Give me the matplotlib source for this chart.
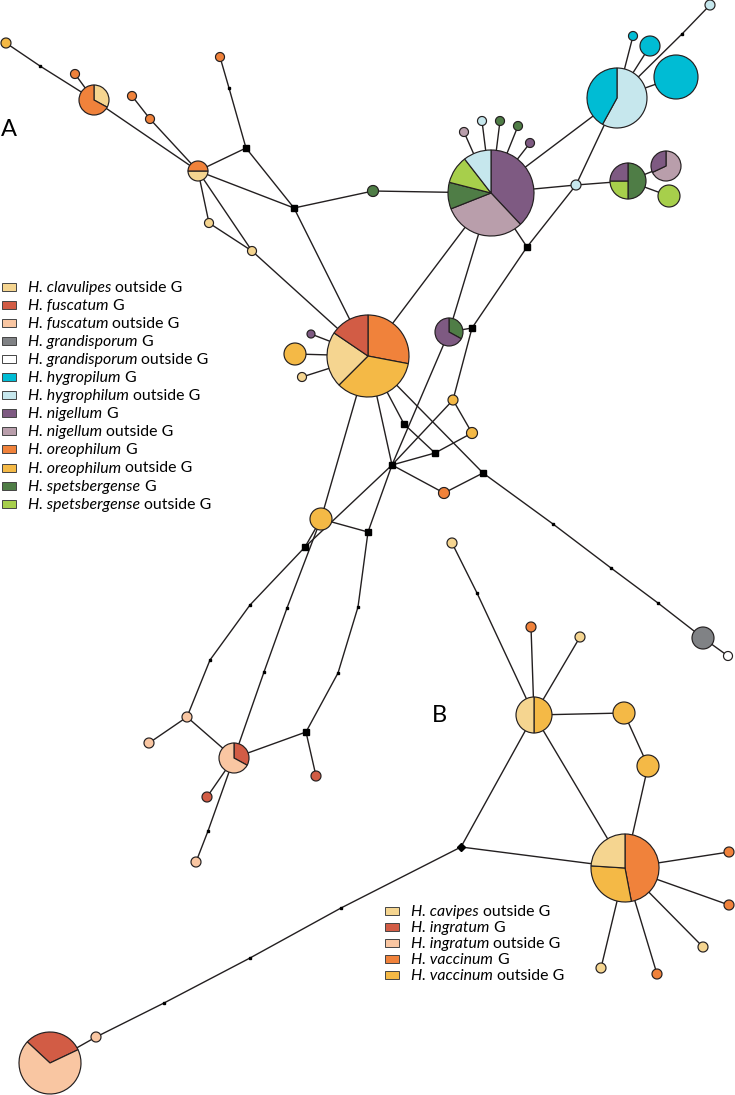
import matplotlib.pyplot as plt
from matplotlib.patches import Wedge, Rectangle

# colours of the groups
CLAV = "#f5d590"
FUSC = "#d25c45"
FUSC_OUT = "#f9c6a2"
GRAND = "#808285"
GRAND_OUT = "#ffffff"
HYGRO = "#00bcd4"
HYGRO_OUT = "#c6e7ed"
NIG = "#7e5a82"
NIG_OUT = "#b99eab"
OREO = "#f0823b"
OREO_OUT = "#f4b946"
SPETS = "#4f7d46"
SPETS_OUT = "#a7cf4b"

# haplotype positions (picture pixels)
hap_xy = {
    # network A
    "a1": (6, 43), "P1": (94, 100), "a2": (75, 74), "a3": (132, 96), "a4": (150, 119),
    "P2": (198, 171), "a5": (220, 57), "a6": (209, 223), "a7": (252, 251),
    "M1": (368, 356), "a8": (311, 334), "a9": (295, 354), "a10": (302, 377),
    "a11": (373, 191), "N1": (491, 193),
    "n1": (464, 132), "n2": (482, 121), "n3": (500, 121), "n4": (518, 126), "n5": (530, 143),
    "C1": (617, 98), "c1": (633, 36), "c2": (650, 46), "c3": (676, 77), "c4": (710, 5),
    "lb": (576, 185), "R": (628, 181), "S": (666, 166), "lg": (669, 196),
    "Q": (449, 332), "y1": (453, 400), "y2": (472, 433), "o1": (444, 493),
    "G": (703, 638), "W": (728, 656), "Y2": (321, 519),
    "f1": (187, 717), "f2": (149, 743), "FP": (234, 758), "f3": (316, 776),
    "f4": (207, 797), "f5": (196, 862),
    # network B
    "b1": (452, 543), "B1": (534, 715), "b2": (531, 627), "b3": (580, 637),
    "b4": (624, 713), "b5": (648, 766), "B2": (625, 868),
    "b6": (729, 852), "b7": (729, 905), "b8": (703, 947), "b9": (657, 974), "b10": (601, 968),
    "b11": (96, 1037), "FI": (50, 1063),
}

hap_r = {
    "a1": 5, "P1": 15, "a2": 4.5, "a3": 4.5, "a4": 4.5, "P2": 10, "a5": 4.5,
    "a6": 4.5, "a7": 4.5, "M1": 41, "a8": 4, "a9": 11, "a10": 4.5, "a11": 5.5,
    "N1": 43, "n1": 4.5, "n2": 4.5, "n3": 4.5, "n4": 4.5, "n5": 4.5,
    "C1": 30, "c1": 4.5, "c2": 10, "c3": 22, "c4": 5, "lb": 5, "R": 18, "S": 15,
    "lg": 11, "Q": 14, "y1": 5, "y2": 5.5, "o1": 5.5, "G": 11, "W": 4.5, "Y2": 11,
    "f1": 5, "f2": 5, "FP": 15, "f3": 5, "f4": 5, "f5": 5,
    "b1": 5, "B1": 18, "b2": 5, "b3": 5, "b4": 11, "b5": 11, "B2": 34,
    "b6": 5, "b7": 5, "b8": 5, "b9": 5, "b10": 5, "b11": 5, "FI": 31,
}

# pie parts, clockwise from the start angle (default: 12 o'clock)
hap_parts = {
    "a1": ([OREO_OUT], [1]), "P1": ([CLAV, OREO], [0.33, 0.67]),
    "a2": ([OREO], [1]), "a3": ([OREO], [1]), "a4": ([OREO], [1]),
    "P2": ([CLAV, OREO], [0.5, 0.5]), "a5": ([OREO], [1]),
    "a6": ([CLAV], [1]), "a7": ([CLAV], [1]),
    "M1": ([OREO, OREO_OUT, CLAV, FUSC], [0.28, 0.345, 0.22, 0.155]),
    "a8": ([NIG], [1]), "a9": ([OREO_OUT], [1]), "a10": ([CLAV], [1]), "a11": ([SPETS], [1]),
    "N1": ([NIG, NIG_OUT, SPETS, SPETS_OUT, HYGRO_OUT], [0.38, 0.31, 0.10, 0.105, 0.105]),
    "n1": ([NIG_OUT], [1]), "n2": ([HYGRO_OUT], [1]), "n3": ([SPETS], [1]),
    "n4": ([SPETS], [1]), "n5": ([NIG], [1]),
    "C1": ([HYGRO_OUT, HYGRO], [0.58, 0.42]),
    "c1": ([HYGRO], [1]), "c2": ([HYGRO], [1]), "c3": ([HYGRO], [1]), "c4": ([HYGRO_OUT], [1]),
    "lb": ([HYGRO_OUT], [1]), "R": ([SPETS, SPETS_OUT, NIG], [0.5, 0.25, 0.25]),
    "S": ([NIG_OUT, NIG], [0.68, 0.32]), "lg": ([SPETS_OUT], [1]),
    "Q": ([SPETS, NIG], [0.33, 0.67]), "y1": ([OREO_OUT], [1]), "y2": ([OREO_OUT], [1]),
    "o1": ([OREO], [1]), "G": ([GRAND], [1]), "W": ([GRAND_OUT], [1]), "Y2": ([OREO_OUT], [1]),
    "f1": ([FUSC_OUT], [1]), "f2": ([FUSC_OUT], [1]), "FP": ([FUSC, FUSC_OUT], [0.33, 0.67]),
    "f3": ([FUSC], [1]), "f4": ([FUSC], [1]), "f5": ([FUSC_OUT], [1]),
    "b1": ([CLAV], [1]), "B1": ([OREO_OUT, CLAV], [0.5, 0.5]), "b2": ([OREO], [1]),
    "b3": ([CLAV], [1]), "b4": ([OREO_OUT], [1]), "b5": ([OREO_OUT], [1]),
    "B2": ([OREO, OREO_OUT, CLAV], [0.47, 0.29, 0.24]),
    "b6": ([OREO], [1]), "b7": ([OREO], [1]), "b8": ([CLAV], [1]), "b9": ([OREO], [1]),
    "b10": ([CLAV], [1]), "b11": ([FUSC_OUT], [1]), "FI": ([FUSC, FUSC_OUT], [0.31, 0.69]),
}
hap_start = {"P2": 0, "FI": 137}

# median vectors
median_sq = {
    "s1": (246, 148), "s2": (294, 208), "s3": (527, 247), "s4": (472, 328),
    "s5": (404, 424), "s6": (435, 453), "H": (392, 465), "s7": (483, 473),
    "s8": (305, 547), "s9": (368, 532), "s10": (306, 732),
}
median_dot = {
    "m1": (40, 66), "m2": (229, 88), "m3": (682, 34), "m4": (553, 524), "m5": (611, 568),
    "m6": (658, 603), "m7": (250, 605), "m8": (210, 660), "m9": (287, 608),
    "m10": (264, 672), "m11": (358, 607), "m12": (338, 673), "m13": (208, 831),
    "mb1": (477, 593), "mb2": (341, 908), "mb3": (250, 958), "mb4": (164, 1003),
}
median_diamond = {"D": (461, 847)}

edges = [
    ("a1", "m1"), ("m1", "P1"), ("P1", "a2"), ("P1", "P2"), ("a3", "a4"), ("a4", "P2"),
    ("a5", "m2"), ("m2", "s1"), ("P2", "s1"), ("P2", "s2"), ("s1", "s2"),
    ("P2", "a6"), ("P2", "a7"), ("a6", "a7"), ("a7", "M1"), ("s2", "M1"),
    ("s2", "a11"), ("a11", "N1"), ("M1", "a8"), ("M1", "a9"), ("M1", "a10"),
    ("M1", "N1"), ("N1", "Q"), ("N1", "s3"), ("N1", "n1"), ("N1", "n2"), ("N1", "n3"),
    ("N1", "n4"), ("N1", "n5"), ("N1", "lb"), ("N1", "C1"),
    ("C1", "c1"), ("C1", "c2"), ("C1", "c3"), ("C1", "m3"), ("m3", "c4"), ("C1", "lb"),
    ("lb", "s3"), ("lb", "R"), ("R", "S"), ("R", "lg"),
    ("s3", "s4"), ("Q", "s4"), ("s4", "y1"), ("y1", "H"), ("y1", "y2"), ("y2", "s6"),
    ("s6", "s5"), ("s5", "M1"), ("s6", "H"), ("H", "o1"), ("o1", "s7"), ("s7", "M1"),
    ("s7", "m4"), ("m4", "m5"), ("m5", "m6"), ("m6", "G"), ("G", "W"),
    ("M1", "H"), ("M1", "Y2"), ("Q", "H"), ("H", "s8"), ("Y2", "s8"),
    ("Y2", "s9"), ("H", "s9"), ("Y2", "m9"),
    ("s8", "m7"), ("m7", "m8"), ("m8", "f1"), ("f1", "f2"), ("f1", "FP"),
    ("m9", "m10"), ("m10", "FP"), ("s9", "m11"), ("m11", "m12"), ("m12", "s10"),
    ("s10", "FP"), ("s10", "f3"), ("FP", "f4"), ("FP", "m13"), ("m13", "f5"),
    # network B
    ("b1", "mb1"), ("mb1", "B1"), ("B1", "b2"), ("B1", "b3"), ("B1", "b4"),
    ("b4", "b5"), ("b5", "B2"), ("B1", "B2"), ("B1", "D"), ("D", "B2"),
    ("B2", "b6"), ("B2", "b7"), ("B2", "b8"), ("B2", "b9"), ("B2", "b10"),
    ("D", "mb2"), ("mb2", "mb3"), ("mb3", "mb4"), ("mb4", "b11"), ("b11", "FI"),
]

legend_a_names = ["H. clavulipes", "H. fuscatum", "H. fuscatum", "H. grandisporum",
                  "H. grandisporum", "H. hygropilum", "H. hygrophilum", "H. nigellum",
                  "H. nigellum", "H. oreophilum", "H. oreophilum", "H. spetsbergense",
                  "H. spetsbergense"]
legend_a_suffix = ["outside G", "G", "outside G", "G", "outside G", "G", "outside G",
                   "G", "outside G", "G", "outside G", "G", "outside G"]
legend_a_colors = [CLAV, FUSC, FUSC_OUT, GRAND, GRAND_OUT, HYGRO, HYGRO_OUT,
                   NIG, NIG_OUT, OREO, OREO_OUT, SPETS, SPETS_OUT]

legend_b_names = ["H. cavipes", "H. ingratum", "H. ingratum", "H. vaccinum", "H. vaccinum"]
legend_b_suffix = ["outside G", "G", "outside G", "G", "outside G"]
legend_b_colors = [CLAV, FUSC, FUSC_OUT, OREO, OREO_OUT]

LINE = "#231f20"
FONT = "Lato"
FS = 11.4

fig = plt.figure(figsize=(7.35, 10.95), dpi=100)
ax = fig.add_axes([0, 0, 1, 1])
ax.set_xlim(0, 735)
ax.set_ylim(1095, 0)
ax.axis("off")

all_xy = {**hap_xy, **median_sq, **median_dot, **median_diamond}
for a, b in edges:
    (x0, y0), (x1, y1) = all_xy[a], all_xy[b]
    ax.plot([x0, x1], [y0, y1], color=LINE, lw=1.0, zorder=1, solid_capstyle="butt")

# pies: the y axis is flipped, so clockwise on screen means increasing data angle
for name, (cx, cy) in hap_xy.items():
    r = hap_r[name]
    cols, fracs = hap_parts[name]
    theta = -hap_start.get(name, 90)
    for col, fr in zip(cols, fracs):
        t2 = theta + fr * 360
        ax.add_patch(Wedge((cx, cy), r, theta, t2, facecolor=col, edgecolor=LINE,
                           lw=0.85, zorder=3))
        theta = t2

for x, y in median_sq.values():
    ax.plot(x, y, marker="s", ms=4.3, color="black", zorder=4)
for x, y in median_dot.values():
    ax.plot(x, y, marker="s", ms=1.8, color="black", zorder=4)
for x, y in median_diamond.values():
    ax.plot(x, y, marker="D", ms=3.8, color="black", zorder=4)

ax.text(1, 129, "A", fontsize=17, family=FONT, va="center", ha="left")
ax.text(432, 716, "B", fontsize=17, family=FONT, va="center", ha="left")


def draw_legend(x, y0, dy, names, suffixes, colors):
    texts = []
    for i, (nm, col) in enumerate(zip(names, colors)):
        y = y0 + i * dy
        ax.add_patch(Rectangle((x, y - 4), 14, 8, facecolor=col, edgecolor="#444444",
                               lw=0.7, zorder=3))
        t = ax.text(x + 26, y + 5, nm, fontsize=FS, family=FONT, style="italic",
                    va="baseline", ha="left")
        texts.append((t, y))
    fig.canvas.draw()
    renderer = fig.canvas.get_renderer()
    inv = ax.transData.inverted()
    for (t, y), suf in zip(texts, suffixes):
        bb = t.get_window_extent(renderer)
        xe = inv.transform((bb.x1, bb.y0))[0]
        ax.text(xe + 4, y + 5, suf, fontsize=FS, family=FONT, va="baseline", ha="left")


draw_legend(2, 287, 18.05, legend_a_names, legend_a_suffix, legend_a_colors)
draw_legend(385, 911, 16, legend_b_names, legend_b_suffix, legend_b_colors)

fig.savefig("out.png", dpi=100)
